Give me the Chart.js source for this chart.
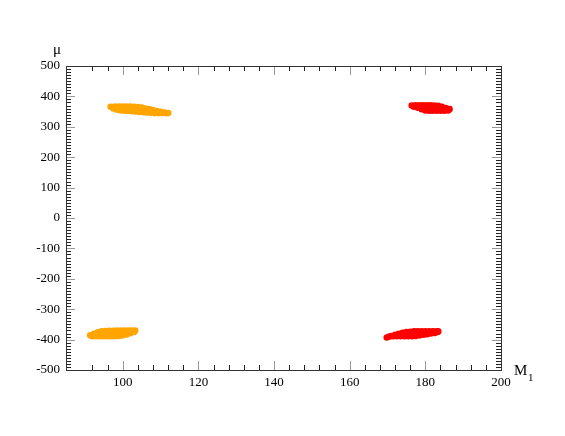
<!DOCTYPE html>
<html>
<head>
<meta charset="utf-8">
<script src="https://cdn.jsdelivr.net/npm/chart.js@4/dist/chart.umd.min.js"></script>
<style>
  body { margin: 0; background: #fff; }
</style>
</head>
<body>
<canvas id="scan-chart" width="565" height="436"></canvas>
<script>
// M1 / mu scan points (4 allowed regions)
var m1OrangeUp = [96.8, 98, 99, 100, 101, 102, 103, 104, 105, 106, 107, 108, 109, 110, 111, 112,
                  97.5, 98.5, 99.5, 100.5, 101.5, 102.5, 103.5, 104.5, 105.5, 106.5, 107.5, 108.5, 109.5, 110.5, 111.5];
var muOrangeUp = [366, 367, 367, 367, 367, 367, 366, 365, 363, 360, 358, 355, 352, 349, 347, 345,
                  360, 356, 354, 353, 352, 351, 350, 349, 348, 347, 346, 345, 345, 345, 345];

var m1RedUp = [176.4, 177.4, 178.4, 179.4, 180.4, 181.4, 182.4, 183.4, 184.4, 185.4, 186.4,
               177, 178, 179, 180, 181, 182, 183, 184, 185, 186];
var muRedUp = [370, 371, 371, 371, 371, 371, 370, 369, 366, 362, 358,
               366, 363, 358, 354, 353, 353, 353, 353, 353, 354];

var m1OrangeLow = [91.4, 92.4, 93.4, 94.4, 95.4, 96.4, 97.4, 98.4, 99.4, 100.4, 101.4, 102.4, 103.3,
                   92, 93, 94, 95, 96, 97, 98, 99, 100, 101, 102, 103];
var muOrangeLow = [-386, -381, -376, -373, -372, -371, -371, -370, -370, -370, -370, -370, -370,
                   -389, -389, -389, -389, -389, -389, -389, -388, -386, -383, -379, -375];

var m1RedLow = [169.8, 171, 172, 173, 174, 175, 176, 177, 178, 179, 180, 181, 182, 183, 183.4,
                170.5, 171.5, 172.5, 173.5, 174.5, 175.5, 176.5, 177.5, 178.5, 179.5, 180.5, 181.5, 182.5, 183.2];
var muRedLow = [-393, -388, -384, -381, -378, -375, -374, -373, -373, -373, -373, -373, -373, -373, -373,
                -390, -389, -389, -389, -389, -389, -389, -388, -386, -384, -382, -380, -378, -375];

function pts(xs, ys) {
  return xs.map(function (v, i) { return { x: v, y: ys[i] }; });
}

var ORANGE = '#FFA500';
var RED = '#FF0000';

// inward tick marks on all four sides + frame + axis titles
var frameTicks = {
  id: 'frameTicks',
  afterDraw: function (chart) {
    var ctx = chart.ctx, a = chart.chartArea;
    var sx = chart.scales.x, sy = chart.scales.y;
    ctx.save();
    ctx.lineWidth = 1;
    function line(x1, y1, x2, y2) {
      ctx.beginPath(); ctx.moveTo(x1, y1); ctx.lineTo(x2, y2); ctx.stroke();
    }
    sx.ticks.forEach(function (t) {
      if (t.value <= sx.min || t.value >= sx.max) return;
      var px = Math.round(sx.getPixelForValue(t.value)) + 0.5;
      var major = t.value % 20 === 0;
      var len = major ? 9 : 5;
      ctx.strokeStyle = major ? '#999' : '#222';
      line(px, a.bottom, px, a.bottom - len);
      line(px, a.top, px, a.top + len);
    });
    sy.ticks.forEach(function (t) {
      if (t.value <= sy.min || t.value >= sy.max) return;
      var py = Math.round(sy.getPixelForValue(t.value)) + 0.5;
      var major = t.value % 100 === 0;
      var len = major ? 9 : 5;
      ctx.strokeStyle = major ? '#999' : '#222';
      line(a.left, py, a.left + len, py);
      line(a.right, py, a.right - len, py);
    });
    ctx.strokeStyle = '#333';
    ctx.strokeRect(Math.round(a.left) + 0.5, Math.round(a.top) + 0.5,
                   Math.round(a.right - a.left), Math.round(a.bottom - a.top));

    ctx.fillStyle = '#000';
    ctx.font = '15px "Liberation Serif"';
    ctx.textBaseline = 'alphabetic';
    ctx.textAlign = 'left';
    ctx.fillText('\u03bc', a.left - 13, a.top - 12);
    ctx.fillText('M', a.right + 13, a.bottom + 5);
    ctx.font = '11px "Liberation Serif"';
    ctx.fillText('1', a.right + 27, a.bottom + 11);
    ctx.restore();
  }
};

var ctx = document.getElementById('scan-chart').getContext('2d');
var scanChart = new Chart(ctx, {
  type: 'scatter',
  data: {
    datasets: [
      { data: pts(m1OrangeUp, muOrangeUp), backgroundColor: ORANGE },
      { data: pts(m1RedUp, muRedUp), backgroundColor: RED },
      { data: pts(m1OrangeLow, muOrangeLow), backgroundColor: ORANGE },
      { data: pts(m1RedLow, muRedLow), backgroundColor: RED }
    ]
  },
  options: {
    responsive: false,
    animation: false,
    layout: { padding: { left: 0, top: 66, right: 64, bottom: 0 } },
    elements: { point: { radius: 3.3, borderWidth: 0, hoverRadius: 3.3 } },
    plugins: { legend: { display: false }, tooltip: { enabled: false } },
    scales: {
      x: {
        type: 'linear', min: 85, max: 200,
        grid: { display: false, drawTicks: false },
        border: { display: false },
        afterFit: function (s) { s.height = 66; },
        ticks: {
          stepSize: 4, autoSkip: false, maxRotation: 0, padding: 5,
          color: '#000', font: { family: 'Liberation Serif', size: 13 },
          callback: function (v) { return v % 20 === 0 && v > 85 ? v : ''; }
        }
      },
      y: {
        type: 'linear', min: -500, max: 500,
        grid: { display: false, drawTicks: false },
        border: { display: false },
        afterFit: function (s) { s.width = 66; },
        ticks: {
          stepSize: 10, autoSkip: false, padding: 6,
          color: '#000', font: { family: 'Liberation Serif', size: 13 },
          callback: function (v) { return v % 100 === 0 ? v : ''; }
        }
      }
    }
  },
  plugins: [frameTicks]
});
</script>
</body>
</html>
